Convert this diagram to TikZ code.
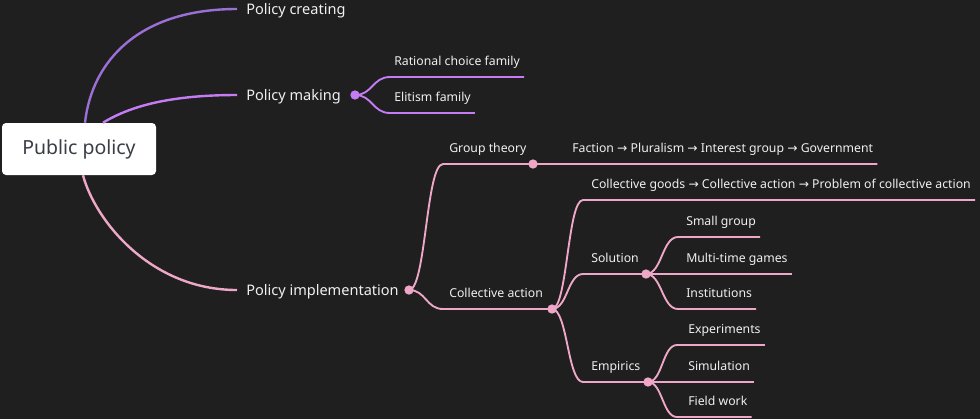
\documentclass[tikz,border=0pt]{standalone}
\usepackage{fontspec}
\setmainfont{Noto Sans}
\newfontfamily\arrowfont{DejaVu Sans}
\usetikzlibrary{calc}

\definecolor{canvas}{HTML}{1F1F1F}
\definecolor{lilac}{HTML}{9A6FD6}
\definecolor{violet}{HTML}{C47CF5}
\definecolor{rose}{HTML}{EFA7C8}
\definecolor{ink}{HTML}{F0F0F0}
\definecolor{rootink}{HTML}{3A3D45}

\newcommand{\thento}{\ {\arrowfont →}\ }

\tikzset{
    rootbox/.style={fill=white, rounded corners=3pt, minimum width=115.5pt,
        minimum height=39pt, inner sep=0pt, text=rootink,
        font=\fontsize{14.6}{16}\selectfont},
    topic/.style={anchor=west, inner xsep=6.75pt, inner ysep=0pt,
        text height=7.7pt, text depth=0pt, text=ink,
        font=\fontsize{10.9}{12}\selectfont},
    leaf/.style={anchor=south west, inner xsep=3pt, inner ysep=6pt,
        text height=6.7pt, text depth=2.25pt, text=ink,
        font=\fontsize{9.2}{11}\selectfont},
    knot/.style={circle, inner sep=0pt, minimum size=7pt},
    trunk/.style={line width=1.8pt},
    link/.style={line width=1.4pt},
    branch/.style={to path={.. controls ($(\tikztostart)!0.5!(\tikztotarget |- \tikztostart)$)
        and ($(\tikztotarget)!0.5!(\tikztostart |- \tikztotarget)$) .. (\tikztotarget)}}
}

\begin{document}
\begin{tikzpicture}[
            x = 0.75pt, % one unit is one pixel
            y = -0.75pt % y runs downwards
        ]
\fill[canvas] (0,0) rectangle (980,419);
\useasboundingbox (0,0) rectangle (980,419);

\node[rootbox] (root) at (79,149) {Public policy};

\node[topic] (creating) at (237,9) {Policy creating};
\node[topic] (making) at (237,95) {Policy making};
\node[topic] (implementation) at (237,290) {Policy implementation};

% trunks out of the root box
\draw[trunk, lilac] (root.north -| 85,0) .. controls (92,60) and (140,9) .. (creating.west);
\draw[trunk, violet] (root.north -| 103,0) .. controls (135,103) and (180,95) .. (making.west);
\draw[trunk, rose] (root.south -| 83,0) .. controls (95,220) and (150,290) .. (implementation.west);

% policy making
\node[knot, fill=violet] (mdot) at (355,95) {};
\coordinate (ratS) at (390,77);
\node[leaf] (rat) at (ratS) {Rational choice family};
\coordinate (eliS) at (390,113);
\node[leaf] (eli) at (eliS) {Elitism family};

\draw[link, violet] (mdot.center) to[branch] (ratS) -- (rat.south east);
\draw[link, violet] (mdot.center) to[branch] (eliS) -- (eli.south east);

% policy implementation
\node[knot, fill=rose] (idot) at (409,290) {};
\coordinate (grpS) at (443,164);
\node[leaf] (grp) at (445,164) {Group theory};
\node[knot, fill=rose] (gdot) at (533,164) {};
\node[leaf] (fac) at (568,164) {Faction\thento Pluralism\thento Interest group\thento Government};
\coordinate (colS) at (443,309);
\node[leaf] (col) at (445,309) {Collective action};
\node[knot, fill=rose] (cdot) at (552,309) {};

\draw[link, rose] (idot.center) to[branch] (grpS) -- (gdot.center) -- (fac.south east);
\draw[link, rose] (idot.center) to[branch] (colS) -- (cdot.center);

% collective action
\coordinate (goodsS) at (583,200);
\node[leaf] (goods) at (587,200) {Collective goods\thento Collective action\thento Problem of collective action};
\coordinate (solS) at (583,274);
\node[leaf] (sol) at (587,274) {Solution};
\node[knot, fill=rose] (sdot) at (646,274) {};
\coordinate (empS) at (583,382);
\node[leaf] (emp) at (587,382) {Empirics};
\node[knot, fill=rose] (edot) at (648,382) {};

\draw[link, rose] (cdot.center) to[branch] (goodsS) -- (goods.south east);
\draw[link, rose] (cdot.center) to[branch] (solS) -- (sdot.center);
\draw[link, rose] (cdot.center) to[branch] (empS) -- (edot.center);

% solution
\coordinate (smallS) at (678,237);
\node[leaf] (small) at (682,237) {Small group};
\node[leaf] (multi) at (682,274) {Multi-time games};
\coordinate (instS) at (678,309);
\node[leaf] (inst) at (682,309) {Institutions};

\draw[link, rose] (sdot.center) to[branch] (smallS) -- (small.south east);
\draw[link, rose] (sdot.center) -- (multi.south east);
\draw[link, rose] (sdot.center) to[branch] (instS) -- (inst.south east);

% empirics
\coordinate (expS) at (677,345);
\node[leaf] (expe) at (684,345) {Experiments};
\node[leaf] (simu) at (684,382) {Simulation};
\coordinate (fieldS) at (677,417);
\node[leaf] (field) at (684,417) {Field work};

\draw[link, rose] (edot.center) to[branch] (expS) -- (expe.south east);
\draw[link, rose] (edot.center) -- (simu.south east);
\draw[link, rose] (edot.center) to[branch] (fieldS) -- (field.south east);
\end{tikzpicture}
\end{document}
